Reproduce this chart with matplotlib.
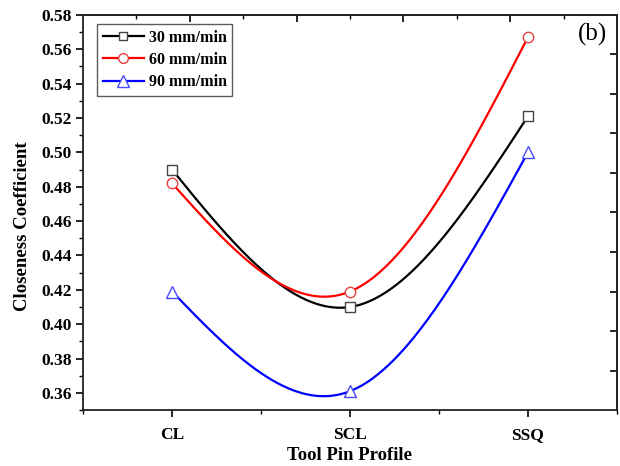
import matplotlib.pyplot as plt
import numpy as np

plt.rcParams['font.family'] = ['Liberation Serif', 'DejaVu Serif']
plt.rcParams['font.weight'] = 'bold'

profiles = ['CL', 'SCL', 'SSQ']
x = np.array([1, 2, 3])
cc_30 = [0.490, 0.410, 0.521]
cc_60 = [0.482, 0.419, 0.567]
cc_90 = [0.419, 0.361, 0.500]
labels = ['30 mm/min', '60 mm/min', '90 mm/min']


def natural_spline(xs, ys, n=200):
    # natural cubic spline, like Origin's "Spline" connect
    xs = np.asarray(xs, float)
    ys = np.asarray(ys, float)
    k = len(xs)
    h = np.diff(xs)
    A = np.zeros((k, k))
    r = np.zeros(k)
    A[0, 0] = A[-1, -1] = 1
    for i in range(1, k - 1):
        A[i, i - 1] = h[i - 1]
        A[i, i] = 2 * (h[i - 1] + h[i])
        A[i, i + 1] = h[i]
        r[i] = 6 * ((ys[i + 1] - ys[i]) / h[i] - (ys[i] - ys[i - 1]) / h[i - 1])
    M = np.linalg.solve(A, r)
    xx = np.linspace(xs[0], xs[-1], n)
    idx = np.clip(np.searchsorted(xs, xx) - 1, 0, k - 2)
    x0, x1 = xs[idx], xs[idx + 1]
    hh = x1 - x0
    a = (x1 - xx) / hh
    b = (xx - x0) / hh
    yy = (a * ys[idx] + b * ys[idx + 1]
          + ((a ** 3 - a) * M[idx] + (b ** 3 - b) * M[idx + 1]) * hh ** 2 / 6)
    return xx, yy


fig = plt.figure(figsize=(6.2, 4.66), dpi=100)
ax = fig.add_axes([0.134, 0.120, 0.861, 0.848])

series = [
    (cc_30, 'black', '#444444', 's', 6.5),
    (cc_60, 'red', '#e84040', 'o', 7.5),
    (cc_90, 'blue', '#4a4aff', '^', 8.5),
]
for (y, col, mcol, mk, ms), lab in zip(series, labels):
    xx, yy = natural_spline(x, y)
    ax.plot(xx, yy, color=col, lw=1.6, zorder=2)
    ax.plot(x, y, ls='none', marker=mk, ms=ms, mfc='white', mec=mcol, mew=1.0, zorder=3)
    ax.plot([], [], color=col, lw=1.6, marker=mk, ms=ms - 0.5, mfc='white', mec=mcol,
            mew=1.0, label=lab)

ax.set_xlim(0.5, 3.5)
ax.set_ylim(0.35, 0.58)
ax.set_xticks(x)
ax.set_xticklabels(profiles)
ax.set_xticks([0.5, 1.5, 2.5, 3.5], minor=True)
ax.set_yticks(np.arange(0.36, 0.581, 0.02))
ax.set_yticks(np.arange(0.35, 0.58, 0.02), minor=True)
ax.yaxis.set_major_formatter(plt.FormatStrFormatter('%.2f'))
ax.tick_params(axis='both', which='major', direction='out', length=5, width=1.2,
               labelsize=12.5, top=False, right=False)
ax.tick_params(axis='x', which='major', pad=7)
ax.tick_params(axis='y', which='major', pad=3)
ax.tick_params(axis='both', which='minor', direction='out', length=3, width=1.0,
               top=False, right=False)
for s in ax.spines.values():
    s.set_linewidth(1.3)
    s.set_color('#222222')

# Origin draws independent scales on the top and right axes
top = ax.secondary_xaxis('top')
top.set_xticks([1.1, 1.7, 2.3, 2.9])
top.set_xticks([0.8, 1.4, 2.0, 2.6, 3.2], minor=True)
top.tick_params(which='major', direction='in', length=5, width=1.2, labeltop=False)
top.tick_params(which='minor', direction='in', length=3, width=1.0)
top.spines['top'].set_linewidth(1.3)
top.spines['top'].set_color('#222222')

right = ax.secondary_yaxis('right')
right.set_yticks(np.linspace(0.35, 0.58, 11)[1:-1])
right.tick_params(direction='in', length=5, width=1.2, labelright=False)
right.spines['right'].set_linewidth(1.3)
right.spines['right'].set_color('#222222')

ax.set_xlabel('Tool Pin Profile', fontsize=13.5, fontweight='bold', labelpad=3)
ax.set_ylabel('Closeness Coefficient', fontsize=13.5, fontweight='bold', labelpad=8)
ax.yaxis.set_label_coords(-0.097, 0.466)

leg = ax.legend(loc='upper left', bbox_to_anchor=(0.02, 0.985), fontsize=11.5,
                frameon=True, fancybox=False, edgecolor='#333333',
                handlelength=2.6, handletextpad=0.3, borderpad=0.35,
                labelspacing=0.4, borderaxespad=0.2)
leg.get_frame().set_linewidth(1.0)

ax.text(0.955, 0.95, '(b)', transform=ax.transAxes, fontsize=18,
        fontweight='normal', ha='center', va='center')

fig.savefig('out.png', dpi=100)
